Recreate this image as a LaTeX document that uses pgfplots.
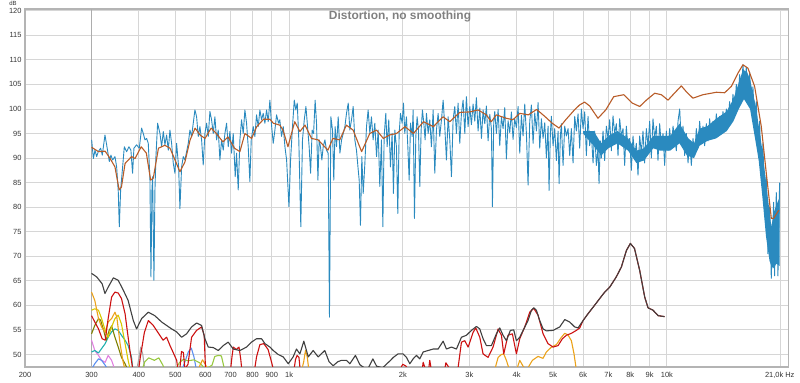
\documentclass[border=0pt]{standalone}
\usepackage{pgfplots}
\pgfplotsset{compat=1.18}
\usepackage{fontspec}
\setmainfont{Liberation Sans}
\definecolor{bluec}{HTML}{2A8ABF}
\definecolor{brownc}{HTML}{B85C28}
\definecolor{thdc}{HTML}{404040}
\definecolor{redc}{HTML}{CC1111}
\definecolor{orangec}{HTML}{EBA21A}
\definecolor{yellowc}{HTML}{D8C800}
\definecolor{olivec}{HTML}{7F8000}
\definecolor{cyanc}{HTML}{20B0B0}
\definecolor{pinkc}{HTML}{E080E0}
\definecolor{lbluec}{HTML}{5B8FF0}
\definecolor{lgreenc}{HTML}{98C840}
\definecolor{greyc}{HTML}{A8A8A8}
\definecolor{gridc}{HTML}{D6D6D6}
\definecolor{framec}{HTML}{B4B4B4}
\begin{document}
\begin{tikzpicture}[x=1bp,y=1bp]
\useasboundingbox (-25,-15.3) rectangle (775,366.7);
\begin{axis}[
 scale only axis, width=763.6bp, height=357.4bp,
 at={(0,0)}, anchor=south west,
 xmode=log, xmin=200, xmax=21000, ymin=47.5, ymax=120.3,
 xtick={200,300,400,500,600,700,800,900,1000,2000,3000,4000,5000,6000,7000,8000,9000,10000,20000},
 xticklabels={200,300,400,500,600,700,800,900,1k,2k,3k,4k,5k,6k,7k,8k,9k,10k,},
 ytick={50,55,...,120},
 extra x ticks={300}, extra x tick labels={},
 extra x tick style={grid style={draw=black!32, line width=0.8bp}},
 grid=major, grid style={draw=gridc, line width=0.8bp},
 major tick length=0pt,
 axis line style={draw=framec, line width=1.6bp},
 tick label style={font=\fontsize{7.5}{8}\selectfont, text=black!80},
 xticklabel style={anchor=base, yshift=-11bp},
 yticklabel style={anchor=east, xshift=0bp},
 /pgf/number format/assume math mode=true,
 every axis plot/.append style={line width=1.1bp, line join=round},
]
% blue band (dense high-frequency region)
\addplot[draw=none, fill=bluec] coordinates {
(6000,95.5) (6400,95.5) (6700,93.0) (7000,94.5) (7400,95.5) (7900,94.0) (8300,91.5) (8700,92.0) (9200,94.5) (9600,94.5) (10200,94.5) (10800,97.0) (11400,94.0) (11800,93.0) (12200,96.0) (12800,96.5) (13500,98.0) (14400,99.5) (15000,102.0) (15600,106.0) (15900,108.0) (16300,107.5) (16600,106.0) (17200,100.5) (17900,91.5) (18500,82.0) (18900,76.0) (19200,79.0) (19500,80.5) (19880,82.0)
(19880,68.0) (19500,68.5) (19100,67.5) (18700,69.0) (18300,74.0) (17900,82.0) (17500,89.5) (17200,93.0) (16600,100.0) (16000,102.0) (15500,100.0) (15000,97.5) (14400,95.5) (13500,94.0) (12800,93.5) (12200,92.5) (11800,90.0) (11300,90.5) (10800,93.0) (10200,91.5) (9600,91.5) (9200,92.0) (8700,89.5) (8300,89.0) (7900,91.5) (7400,93.0) (7000,92.0) (6700,90.5) (6400,92.5) (6000,95.0)
};
% blue measurement
\addplot[bluec, line width=0.9bp] coordinates {
(300.2,93.7) (303.3,89.9) (306.4,91.6) (309.5,90.3) (312.6,91.3) (317.1,92.0) (320.3,90.6) (325.6,94.7) (328.9,92.7) (334.3,89.3) (337.7,90.6) (341.1,89.6) (346.0,90.3) (349.6,88.2) (353.1,83.1) (355.3,76.0) (358.2,83.5) (362.6,88.2) (366.3,92.3) (371.5,91.3) (376.8,92.3) (381.4,91.6) (385.3,86.9) (388.5,92.0) (394.8,92.7) (401.3,92.0) (407.0,96.1) (411.2,95.0) (415.4,93.7) (419.6,94.0) (423.9,93.0) (428.2,85.9) (430.9,65.8) (433.5,83.5) (435.3,86.2) (438.8,65.1) (441.5,83.5) (444.2,90.3) (448.7,97.1) (455.2,95.0) (459.8,92.3) (464.5,95.4) (469.2,92.7) (474.0,94.7) (478.9,91.6) (483.7,95.7) (488.7,93.0) (493.7,88.9) (498.7,86.9) (503.8,93.0) (510.0,88.2) (514.1,79.7) (519.4,88.2) (524.7,90.3) (530.0,89.6) (535.4,91.3) (540.9,93.0) (546.4,95.7) (552.0,94.4) (557.6,97.1) (563.3,99.8) (569.1,98.4) (574.9,94.4) (580.7,96.4) (586.7,93.7) (592.6,88.6) (598.7,95.0) (604.8,97.1) (611.0,94.4) (617.2,99.5) (623.5,97.8) (629.9,95.0) (636.3,98.4) (642.8,93.7) (649.4,95.7) (656.0,89.6) (662.7,93.7) (669.5,91.6) (676.3,95.0) (683.2,97.1) (690.2,92.3) (697.2,95.4) (704.3,91.0) (711.5,95.0) (720.2,86.2) (726.1,91.0) (733.5,83.5) (741.0,93.7) (748.5,97.8) (756.2,95.0) (763.9,99.8) (771.7,97.1) (779.6,92.3) (787.5,85.2) (793.9,93.7) (803.7,96.4) (811.9,94.4) (820.1,98.8) (828.5,96.4) (837.0,99.8) (845.5,97.8) (854.1,99.1) (862.9,97.1) (871.7,99.8) (880.6,97.4) (889.6,101.8) (898.6,96.7) (907.8,93.0) (917.1,95.7) (926.4,98.8) (937.8,97.1)
(945,97.8) (955,94.4) (965,96.4) (975,92.3) (985,89.6) (999,80.1) (1009,89.6) (1021,96.4) (1032,101.8) (1042,99.8) (1051,101.2) (1061,93.7) (1074,76.0) (1085,93.7) (1097,97.8) (1108,100.5) (1119,96.4) (1130,92.3) (1140,86.9) (1151,95.7) (1161,95.0) (1172,101.8) (1182,97.1) (1192,85.5) (1201,93.7) (1211,92.3) (1221,89.6) (1231,92.3) (1244,93.7) (1256,91.6) (1269,91.0) (1279,57.6) (1290,98.4) (1303,95.7) (1313,85.5) (1324,96.4) (1335,92.3) (1349,98.4) (1363,91.0) (1377,93.7) (1391,95.0) (1405,96.4) (1419,99.1) (1434,101.2) (1448,95.7) (1463,97.8) (1478,100.5) (1493,93.7) (1508,91.6) (1524,87.6) (1533,85.5) (1545,76.3) (1558,90.3) (1571,82.8) (1587,88.9) (1603,96.4) (1619,99.8) (1636,95.0) (1652,98.4) (1669,93.7) (1686,97.1) (1704,90.3) (1721,95.7) (1738,84.2) (1756,93.7) (1771,76.0) (1785,94.4) (1803,99.1) (1818,92.3) (1836,97.8) (1855,88.2) (1874,95.0) (1889,82.8) (1905,95.7) (1924,92.3) (1940,78.7) (1956,95.0) (1972,99.1) (1992,97.1) (2008,101.2) (2024,95.0) (2045,98.4) (2062,92.3) (2079,85.5) (2096,97.1) (2117,94.4) (2130,99.8) (2147,77.7) (2165,94.4) (2182,98.4) (2200,95.7) (2218,84.2) (2236,95.7) (2254,99.8) (2273,97.1) (2291,93.7) (2310,99.1) (2334,95.0) (2357,97.8) (2381,92.3) (2406,99.8) (2430,86.9) (2455,95.7) (2480,99.1) (2505,94.4) (2531,97.8) (2557,101.8) (2583,96.4) (2609,89.6) (2636,98.4) (2663,93.7) (2690,86.2) (2717,97.8) (2745,100.5) (2773,95.0) (2801,101.2) (2830,93.0) (2859,99.1) (2888,101.8) (2918,95.0) (2947,102.5) (2977,96.4) (3008,100.5)
(3038,96.8) (3069,101.0) (3101,97.5) (3132,102.3) (3164,95.5) (3197,100.2) (3230,94.0) (3262,99.8) (3296,97.0) (3329,100.6) (3363,93.5) (3398,98.9) (3432,96.0) (3453,80.1) (3481,97.2) (3503,99.5) (3538,95.0) (3575,99.9) (3611,92.5) (3648,98.4) (3685,96.0) (3723,100.3) (3760,89.8) (3799,97.6) (3838,95.2) (3877,99.4) (3916,93.8) (3956,98.0) (3997,96.2) (4038,100.5) (4079,91.0) (4120,98.7) (4162,94.5) (4205,101.0) (4248,95.0) (4291,84.5) (4335,97.5) (4379,100.8) (4424,93.0) (4469,99.2) (4515,95.5) (4561,101.3) (4607,92.0) (4654,98.0) (4702,94.0) (4750,97.2) (4798,90.0) (4847,96.5) (4876,83.4) (4916,95.0) (4946,98.5) (4997,92.5) (5048,96.0) (5099,89.5) (5152,95.5) (5183,84.8) (5225,94.5) (5257,97.0) (5311,88.5) (5365,96.5) (5420,94.5) (5475,96.0) (5531,90.5) (5587,96.0) (5644,89.0) (5702,98.5) (5760,95.5) (5819,99.0) (5878,92.0) (5938,100.0) (5999,96.0) (6060,99.4) (6122,90.5) (6184,98.5) (6247,92.5) (6311,95.0) (6376,89.0) (6441,95.5) (6506,88.5) (6573,92.0) (6613,84.8) (6667,93.5) (6708,90.0) (6776,95.5) (6845,89.5) (6915,96.5) (6986,94.0) (7057,97.8) (7129,91.5) (7202,98.6) (7275,95.0) (7349,97.0) (7424,90.5) (7500,98.0) (7576,94.5) (7654,96.0) (7732,88.5) (7811,96.5) (7890,92.0) (7971,94.0) (8052,87.5) (8134,94.5) (8218,90.5) (8301,93.0) (8386,86.5) (8472,94.5) (8558,91.0) (8645,95.5) (8733,89.0) (8823,96.0) (8913,92.5) (9004,97.5) (9096,90.0) (9188,98.0) (9282,94.0) (9377,96.5) (9472,89.5) (9569,97.0) (9667,92.5) (9766,95.0) (9865,88.5) (9966,95.5) (10068,91.5) (10170,96.0)
(10276,92.0) (10381,96.5) (10594,91.5) (10702,97.5) (10811,100.0) (10921,93.0) (11032,96.5) (11145,90.5) (11259,95.0) (11374,89.0) (11490,93.5) (11607,88.5) (11725,94.0) (11845,90.5) (11965,96.0) (12088,92.0) (12211,97.5) (12335,93.0) (12461,96.5) (12589,92.5) (12717,97.0) (12847,93.5) (12978,98.0) (13110,94.0) (13244,97.5) (13379,94.5) (13516,99.0) (13654,95.0) (13793,98.5) (13934,95.5) (14076,99.5) (14220,96.0) (14365,100.0) (14511,97.0) (14659,101.5) (14809,98.0) (14960,103.0) (15113,99.5) (15267,105.0) (15423,101.5) (15580,107.0) (15739,103.5) (15900,109.0) (16062,104.0) (16226,108.5) (16392,102.0) (16559,107.5) (16728,100.5) (16898,104.5) (17071,97.0) (17245,101.5) (17421,92.0) (17599,97.5) (17778,86.0) (17960,93.0) (18143,79.5) (18328,86.5) (18515,70.5) (18704,80.0) (18895,65.5) (19165,81.0) (19283,66.0) (19479,83.0) (19678,66.0) (19879,85.0)
};
% brown smoothed
\addplot[brownc] coordinates {
(300,92.2) (313,91.3) (326,91.4) (336,89.9) (346,88.2) (355,83.5) (360,84.1) (368,88.9) (383,90.3) (391,89.9) (406,92.3) (419,91.0) (430,85.5) (437,85.9) (451,92.0) (469,92.6) (484,92.0) (499,89.6) (514,87.2) (530,89.2) (547,93.7) (564,96.1) (581,94.7) (599,94.0) (622,96.1) (642,95.0) (668,93.3) (689,94.3) (717,92.0) (741,91.3) (764,95.0) (796,94.0) (821,96.4) (856,97.9) (890,97.9) (908,97.1) (945,96.7) (964,95.7) (993,92.3) (1035,97.4) (1068,95.4) (1102,96.7) (1146,94.0) (1194,93.7) (1267,91.6) (1306,94.0) (1362,93.7) (1418,96.7) (1477,95.7) (1556,91.3) (1635,95.0) (1704,95.7) (1776,94.0) (1847,94.7) (1925,95.0) (2027,96.4) (2133,95.0) (2269,97.4) (2409,96.4) (2557,98.4) (2662,97.4) (2830,99.3) (3008,99.4) (3165,99.8) (3327,98.8) (3430,97.4) (3537,98.8) (3758,98.1) (3913,97.8) (4079,99.1) (4299,98.8) (4521,99.9) (4765,98.4) (4970,97.1) (5183,96.1) (5398,97.8) (5692,99.8) (5871,100.8) (6055,101.4) (6248,100.6) (6570,98.1) (6890,99.8) (7232,102.5) (7688,102.9) (8098,101.2) (8473,100.5) (8826,101.8) (9283,103.2) (9670,102.9) (10070,101.8) (10380,102.9) (10920,104.7) (11260,103.5) (11720,102.2) (12460,102.9) (13520,103.4) (14220,103.3) (14815,104.6) (15420,107.3) (15900,109.0) (16390,108.3) (17070,104.6) (17780,96.4) (18330,86.9) (18900,77.7) (19160,77.7) (19790,79.4)
};
% low-order harmonics at low frequency
\addplot[pinkc] coordinates {(300,52.9) (306,50.8) (313,49.8) (319,48.8) (326,48.4) (332,49.8) (339,48.8) (346,46.8)};
\addplot[lbluec] coordinates {(300,47.0) (306,48.1) (313,49.1) (319,48.8) (326,47.8) (332,46.8)};
\addplot[lbluec] coordinates {(520,46.8) (530,48.5) (541,50.5) (551,51.3) (560,49.5) (568,47.0)};
\addplot[greyc] coordinates {(395,46.8) (400,49.0) (405,51.5) (410,50.0) (415,46.8)};
\addplot[cyanc] coordinates {(300,50.5) (306,50.8) (313,50.3) (319,51.2) (326,52.2) (332,53.5) (339,54.6) (346,55.2) (353,54.9) (360,53.9) (368,52.9) (375,51.8) (383,49.4) (386,46.8)};
\addplot[olivec] coordinates {(300,54.2) (306,55.9) (313,57.3) (317,57.0) (323,54.9) (328,52.9) (334,54.9) (339,55.8) (346,53.5) (353,51.5) (360,49.4) (368,48.1) (375,46.7)};
\addplot[yellowc] coordinates {(300,59.0) (306,59.3) (313,59.0) (319,57.3) (326,54.9) (332,53.5) (339,55.6) (346,57.3) (353,58.0) (360,56.2) (368,52.2) (375,48.8) (380,46.8)};
\addplot[lgreenc] coordinates {(408,46.8) (415,48.5) (425,49.3) (440,48.8) (452,49.3) (462,48.0) (470,46.8)};
\addplot[lgreenc] coordinates {(500,46.8) (512,48.3) (525,49.0) (540,48.7) (560,48.9) (580,48.3) (600,47.0) (625,47.8) (636,49.6) (650,49.8) (662,49.7) (672,47.5) (680,46.8)};
% H3
\addplot[orangec] coordinates {(300,62.7) (306,61.0) (313,57.3) (319,55.6) (326,54.5) (332,56.6) (339,57.3) (346,58.6) (350,57.6) (357,52.2) (363,48.8) (368,46.8)};
\addplot[orangec] coordinates {(575,46.8) (581,47.8) (590,48.9) (600,48.0) (611,46.8)};
\addplot[orangec] coordinates {(1080,46.8) (1093,48.5) (1105,50.8) (1117,49.5) (1128,46.8)};
\addplot[orangec] coordinates {(3500,46.8) (3575,49.4) (3650,50.0) (3700,50.1) (3760,48.8) (3833,46.8) (4000,46.8) (4079,48.8) (4163,47.6) (4250,46.8) (4406,48.8) (4560,49.6) (4700,49.2) (4798,50.5) (4948,51.5) (5100,52.0) (5258,53.5) (5366,54.3) (5470,54.0) (5587,52.8) (5678,50.1) (5760,46.8) (5800,46.0)};
% H2
\addplot[redc] coordinates {(300,57.9) (306,56.6) (313,55.2) (320,53.2) (326,52.9) (332,57.3) (339,61.7) (346,62.7) (353,62.5) (360,61.4) (368,58.3) (375,53.5) (379,50.8) (385,47.4) (390,46.5) (399,46.5) (404,49.5) (414,54.5) (424,56.9) (437,55.9) (452,54.2) (464,52.9) (474,53.5) (484,51.8) (494,50.3) (504,48.8) (508,46.8) (514,47.2) (519,50.6) (525,50.4) (530,47.0) (540,48.0) (552,53.5) (569,54.9) (587,55.6) (596,53.9) (601,46.8) (700,46.8) (706,49.5) (712,51.5) (725,51.0) (737,51.5) (745,49.0) (750,46.8) (810,46.8) (820,49.5) (837,52.0) (857,52.2) (880,51.0) (898,48.5) (910,46.8) (1030,46.8) (1040,49.0) (1050,49.8) (1062,49.4) (1070,46.8) (1960,46.8) (2000,48.0) (2040,47.6) (2070,46.8) (2250,46.8) (2264,48.4) (2300,46.8) (2340,46.8) (2357,48.8) (2380,46.8) (2580,46.8) (2600,48.3) (2640,47.5) (2700,46.8) (2800,47.2) (2859,52.5) (2917,52.8) (2978,51.5) (3070,54.5) (3120,55.4) (3197,53.5) (3262,50.1) (3363,49.4) (3467,51.5) (3575,55.2) (3648,53.9) (3700,50.1) (3797,53.9) (3900,54.2) (3997,50.1) (4079,53.2) (4205,55.6) (4335,58.6) (4442,59.4) (4560,58.0) (4702,54.2) (4846,52.2) (4997,51.5) (5152,51.8) (5290,53.2) (5420,53.9) (5587,54.3) (5760,54.9) (5879,55.4) (6000,56.9) (6185,58.3) (6376,59.6) (6643,61.4) (6847,62.7) (7058,63.7) (7347,65.8) (7578,67.8) (7816,71.2) (8005,72.6) (8207,71.6) (8473,67.1) (8735,61.7) (8914,59.5) (9191,59.0) (9481,57.9) (9860,57.7)};
% THD
\addplot[thdc] coordinates {(300,66.5) (309.5,65.8) (320,64.4) (325.6,62.4) (332,63.7) (342.7,65.6) (353,65.1) (364,63.1) (375,61.0) (387,56.9) (394.8,55.2) (407,57.3) (424,58.6) (441,57.9) (460,56.6) (474,55.9) (488.7,55.2) (503.8,54.6) (519.4,53.5) (535.4,54.2) (552,55.6) (569,56.4) (586.7,55.9) (598.7,53.2) (611,51.5) (629.9,51.4) (649.4,50.8) (669.5,51.8) (690,52.5) (711.5,51.1) (741,50.8) (771.7,51.5) (795,52.5) (820,53.2) (845.5,53.2) (863,52.2) (889.6,51.5) (907.8,50.8) (935,50.0) (964.8,49.5) (995,48.1) (1025,49.5) (1046,51.1) (1068,50.1) (1094,52.7) (1124,49.5) (1158,50.8) (1194,49.5) (1243,50.8) (1276,48.5) (1308,47.7) (1345,48.5) (1376,48.8) (1418,48.8) (1448,48.1) (1498,49.8) (1540,47.9) (1580,47.3) (1620,47.2) (1666,49.1) (1705,47.6) (1770,47.3) (1850,48.7) (1888,49.4) (1942,50.1) (2004,50.1) (2045,49.4) (2087,48.1) (2130,49.1) (2173,49.8) (2218,49.1) (2264,50.5) (2334,50.8) (2406,51.1) (2480,51.1) (2557,52.7) (2609,51.1) (2690,51.5) (2773,51.1) (2859,53.5) (2947,53.9) (3039,54.9) (3132,55.7) (3197,55.2) (3262,53.2) (3329,51.8) (3432,51.8) (3538,54.2) (3611,55.4) (3685,53.9) (3760,52.8) (3853,54.9) (3932,55.0) (3997,52.8) (4079,53.5) (4163,54.9) (4291,56.9) (4380,59.0) (4442,59.5) (4514,59.0) (4607,56.9) (4702,55.2) (4798,54.8) (4997,54.9) (5204,55.6) (5366,57.1) (5531,56.6) (5702,55.6) (5819,55.4) (6000,56.9) (6185,58.3) (6376,59.6) (6643,61.4) (6847,62.7) (7058,63.7) (7347,65.8) (7578,67.8) (7816,71.2) (8005,72.6) (8207,71.6) (8473,67.1) (8735,61.7) (8914,59.5) (9191,59.0) (9481,57.9) (9860,57.7)};
\end{axis}
\node[font=\bfseries\fontsize{12}{14}\selectfont, text=black!50] at (375,350) {Distortion, no smoothing};
\node[font=\fontsize{6}{7}\selectfont, text=black!80] at (-12,363.5) {dB};
\node[font=\fontsize{7.5}{8}\selectfont, text=black!80, anchor=base east] at (773,-11) {21,0k Hz};
\end{tikzpicture}
\end{document}
